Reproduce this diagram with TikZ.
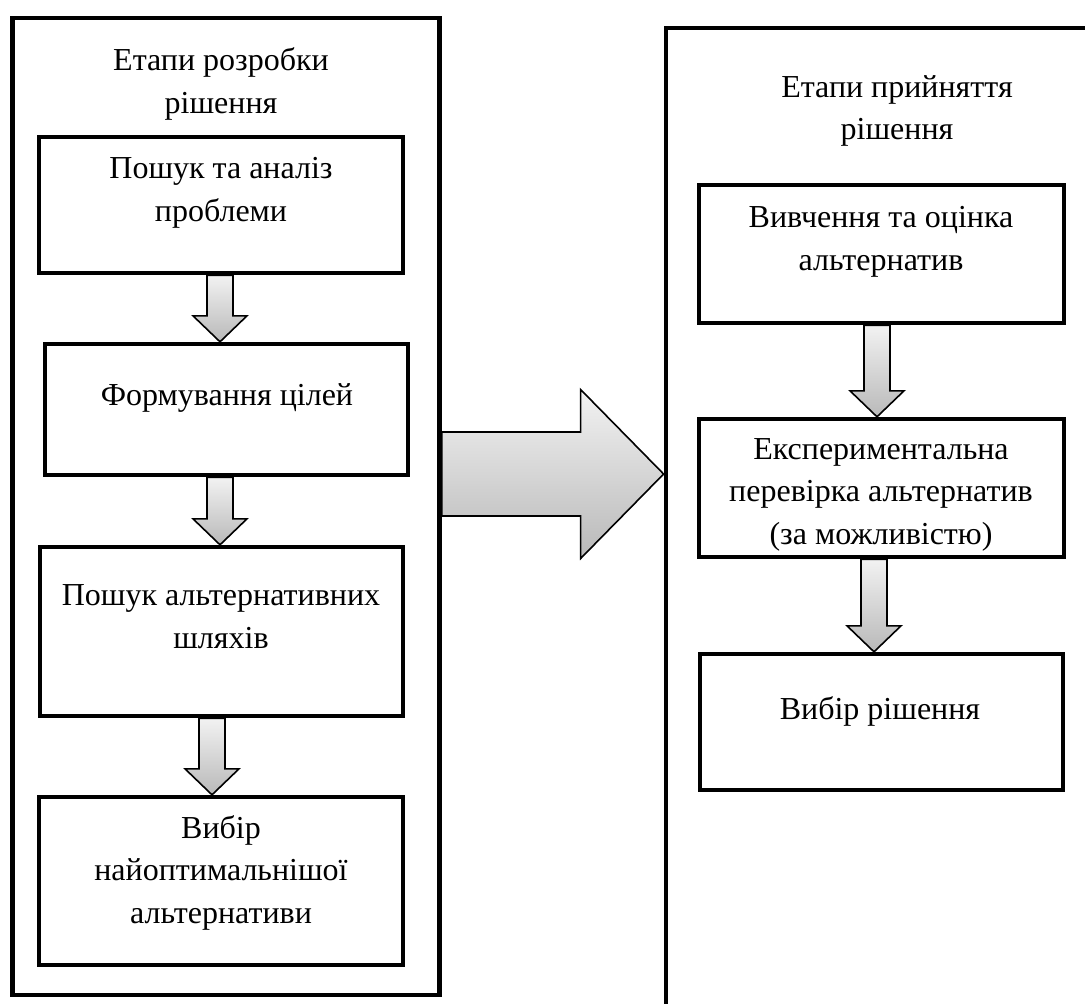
\documentclass[tikz,border=0pt]{standalone}
\usepackage{fontspec}
\setmainfont{Liberation Serif}
\usetikzlibrary{calc, backgrounds}

\newcommand{\stagefont}{\fontsize{16pt}{21.25pt}\selectfont}

\tikzset{
  stageframe/.style={draw, line width=2.4pt, inner sep=0pt},
  stagebox/.style={draw, line width=2.2pt, inner sep=0pt},
  stagetext/.style={align=center, font=\stagefont, inner sep=0pt},
  blockarrow/.style={draw=black, line width=0.8pt, line join=miter,
    top color=gray!10, bottom color=gray!55}
}

% block arrow from the bottom of #1 down to the top of #2, shifted sideways by #3
\newcommand{\flowarrow}[3]{%
  \path[blockarrow] let \p1=([xshift=#3]#1.south), \p2=(#2.north) in
    (\x1-6.5pt,\y1) -- (\x1+6.5pt,\y1) -- (\x1+6.5pt,\y2+13pt)
    -- (\x1+13.5pt,\y2+13pt) -- (\x1,\y2) -- (\x1-13.5pt,\y2+13pt)
    -- (\x1-6.5pt,\y2+13pt) -- cycle;}

\begin{document}
\begin{tikzpicture}[x=0.5pt, y=-0.5pt]
  \useasboundingbox (0,0) rectangle (1085,1003);

  % Left column
  \node[stageframe, minimum width=213.5pt, minimum height=488.5pt] (devframe) at (226,506.5) {};
  \node[stagetext] (devtitle) at (221,84) {Етапи розробки\\рішення};

  \node[stagebox, minimum width=182pt, minimum height=68pt] (search) at (221,205) {};
  \node[stagetext] (searchtext) at (221,193) {Пошук та аналіз\\проблеми};

  \node[stagebox, minimum width=181.5pt, minimum height=65.5pt] (goals) at (226.5,409.5) {};
  \node[stagetext] (goalstext) at (227,398) {Формування цілей};

  \node[stagebox, minimum width=181.5pt, minimum height=84.5pt] (paths) at (221.5,631.5) {};
  \node[stagetext] (pathstext) at (221,616.5) {Пошук альтернативних\\шляхів};

  \node[stagebox, minimum width=182pt, minimum height=84pt] (optimum) at (221,881) {};
  \node[stagetext] (optimumtext) at (221,872.5) {Вибір\\найоптимальнішої\\альтернативи};

  % Right column
  \node[stageframe, minimum width=227pt, minimum height=506pt] (acceptframe) at (893,534) {};
  \node[stagetext] (accepttitle) at (897,111) {Етапи прийняття\\рішення};

  \node[stagebox, minimum width=182.5pt, minimum height=69pt] (study) at (881.5,254) {};
  \node[stagetext] (studytext) at (881,242) {Вивчення та оцінка\\альтернатив};

  \node[stagebox, minimum width=182.5pt, minimum height=69pt] (trial) at (881.5,488) {};
  \node[stagetext] (trialtext) at (881,494.5) {Експериментальна\\перевірка альтернатив\\(за можливістю)};

  \node[stagebox, minimum width=181.5pt, minimum height=68pt] (choice) at (881.5,722) {};
  \node[stagetext] (choicetext) at (880,711) {Вибір рішення};

  \coordinate (passmid) at (0,474);

  \begin{scope}[on background layer]
    \fill[white] (0,0) rectangle (1085,1003);

    % Arrows
    \flowarrow{search}{goals}{-0.5pt}
    \flowarrow{goals}{paths}{-3.25pt}
    \flowarrow{paths}{optimum}{-4.75pt}
    \flowarrow{study}{trial}{-2.25pt}
    \flowarrow{trial}{choice}{-3.75pt}

    % Big arrow between the columns
    \path[blockarrow] let \p1=(devframe.east), \p2=(acceptframe.west), \p3=(passmid) in
      (\x1,\y3+21pt) -- (\x2-41.5pt,\y3+21pt) -- (\x2-41.5pt,\y3+42.25pt)
      -- (\x2,\y3) -- (\x2-41.5pt,\y3-42.25pt) -- (\x2-41.5pt,\y3-21pt)
      -- (\x1,\y3-21pt) -- cycle;
  \end{scope}
\end{tikzpicture}
\end{document}
